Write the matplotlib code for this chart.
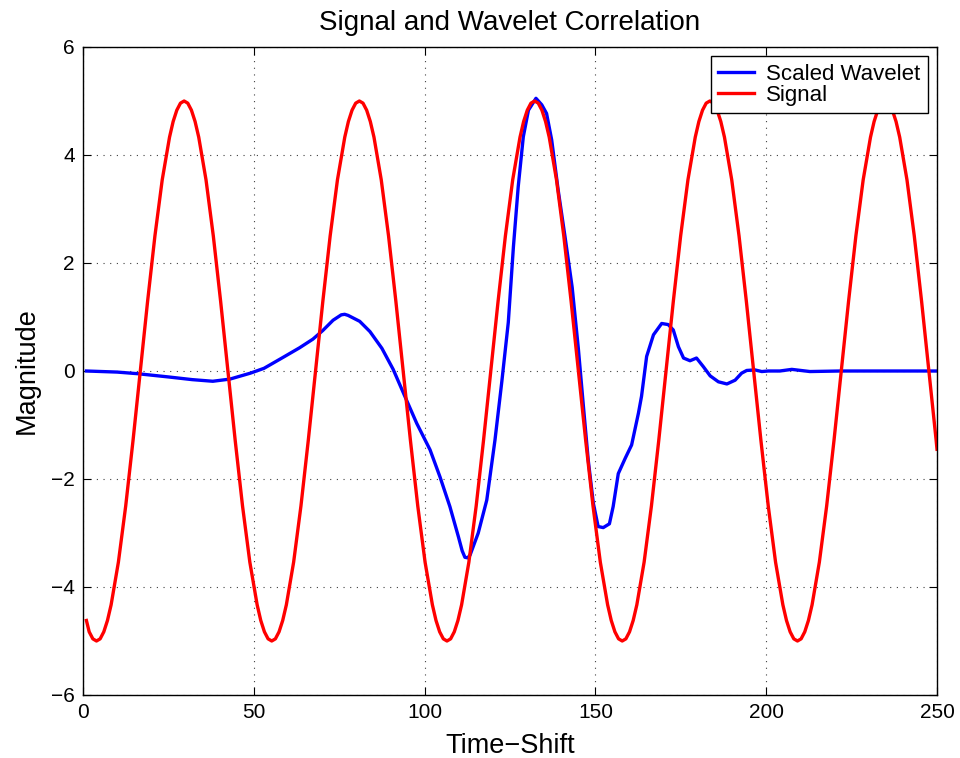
import matplotlib
matplotlib.use("Agg")
import matplotlib.pyplot as plt

plt.rcParams['font.family'] = ['Liberation Sans', 'DejaVu Sans']

# red signal (denser near the peaks and troughs)
signal_t = [1.00, 1.81, 2.88,
            3.95, 5.02, 6.09, 7.16, 8.23, 10.36, 12.50, 14.64, 16.78, 18.91, 21.05, 23.19, 25.33, 26.39,
            27.46, 28.53, 29.60, 30.67, 31.74, 32.81, 33.88, 36.01, 38.15, 40.29, 42.43, 44.56, 46.70,
            48.84, 50.98, 52.04, 53.11, 54.18,
            55.25, 56.32, 57.39, 58.46, 59.53, 61.66, 63.80, 65.94, 68.08, 70.21, 72.35, 74.49, 76.63, 77.69,
            78.76, 79.83, 80.90, 81.97, 83.04, 84.11, 85.18, 87.31, 89.45, 91.59, 93.73, 95.86, 98.00,
            100.14, 102.28, 103.34, 104.41, 105.48,
            106.55, 107.62, 108.69, 109.76, 110.83, 112.96, 115.10, 117.24, 119.38, 121.51, 123.65, 125.79,
            127.93, 128.99, 130.06, 131.13, 132.20, 133.27, 134.34, 135.41, 136.48, 138.61, 140.75, 142.89,
            145.03, 147.16, 149.30, 151.44, 153.58, 154.64, 155.71, 156.78,
            157.85, 158.92, 159.99, 161.06, 162.13, 164.26, 166.40, 168.54, 170.68, 172.81, 174.95, 177.09,
            179.23, 180.29, 181.36, 182.43, 183.50, 184.57, 185.64, 186.71, 187.78, 189.91, 192.05, 194.19,
            196.33, 198.46, 200.60, 202.74, 204.88, 205.94, 207.01, 208.08,
            209.15, 210.22, 211.29, 212.36, 213.43, 215.56, 217.70, 219.84, 221.98, 224.11, 226.25, 228.39,
            230.53, 231.59, 232.66, 233.73, 234.80, 235.87, 236.94, 238.01, 239.08, 241.21, 243.35, 245.49,
            247.63, 249.76, 250.00]
signal_v = [-4.62, -4.83, -4.96,
            -5.00, -4.96, -4.83, -4.62, -4.33, -3.54, -2.50, -1.29, 0.00, 1.29, 2.50, 3.54, 4.33, 4.62,
            4.83, 4.96, 5.00, 4.96, 4.83, 4.62, 4.33, 3.54, 2.50, 1.29, 0.00, -1.29, -2.50,
            -3.54, -4.33, -4.62, -4.83, -4.96,
            -5.00, -4.96, -4.83, -4.62, -4.33, -3.54, -2.50, -1.29, 0.00, 1.29, 2.50, 3.54, 4.33, 4.62,
            4.83, 4.96, 5.00, 4.96, 4.83, 4.62, 4.33, 3.54, 2.50, 1.29, 0.00, -1.29, -2.50,
            -3.54, -4.33, -4.62, -4.83, -4.96,
            -5.00, -4.96, -4.83, -4.62, -4.33, -3.54, -2.50, -1.29, 0.00, 1.29, 2.50, 3.54,
            4.33, 4.62, 4.83, 4.96, 5.00, 4.96, 4.83, 4.62, 4.33, 3.54, 2.50, 1.29,
            0.00, -1.29, -2.50, -3.54, -4.33, -4.62, -4.83, -4.96,
            -5.00, -4.96, -4.83, -4.62, -4.33, -3.54, -2.50, -1.29, 0.00, 1.29, 2.50, 3.54,
            4.33, 4.62, 4.83, 4.96, 5.00, 4.96, 4.83, 4.62, 4.33, 3.54, 2.50, 1.29,
            0.00, -1.29, -2.50, -3.54, -4.33, -4.62, -4.83, -4.96,
            -5.00, -4.96, -4.83, -4.62, -4.33, -3.54, -2.50, -1.29, 0.00, 1.29, 2.50, 3.54,
            4.33, 4.62, 4.83, 4.96, 5.00, 4.96, 4.83, 4.62, 4.33, 3.54, 2.50, 1.29,
            0.00, -1.29, -1.45]

# blue scaled wavelet
wavelet_t = [1, 10, 16, 25, 32, 38, 43, 49, 53, 58.5, 63.4, 67.3, 70.2, 73.2, 75.6, 76.6, 77.6,
             81, 84, 87.5, 90.8, 94.3, 97.7, 101.6, 104.5, 107.4, 109.9, 111.0, 111.8, 112.6, 113.3,
             115.7, 118.2, 120.6, 122.6, 124.5, 126, 127.4, 128.9, 130.4, 132.6, 134.3,
             135.7, 137.2, 139.1, 141.1, 143.2, 145, 146.5, 147.9, 149.4, 150.8, 152.3,
             154.1, 155.2, 156.7, 158.7, 160.6, 162.6, 163.5, 165, 167, 169.4, 171.3,
             172.8, 174.3, 175.8, 177.7, 179.6, 181.6, 183.6, 186, 188.5, 190.9, 192.8,
             194.3, 196.7, 198.7, 200.6, 204, 207.5, 212.8, 221.6, 250]
wavelet_v = [0.0, -0.02, -0.05, -0.11, -0.16, -0.19, -0.15, -0.04, 0.05, 0.25, 0.43, 0.59,
             0.75, 0.94, 1.04, 1.05, 1.03, 0.92, 0.73, 0.42, 0.03, -0.48, -0.97, -1.46, -1.96,
             -2.51, -3.07, -3.33, -3.45, -3.46, -3.41, -3.0, -2.39, -1.28, -0.2, 0.9, 2.3, 3.41, 4.34,
             4.83, 5.05, 4.93, 4.77, 4.28, 3.35, 2.49, 1.55, 0.42, -0.66, -1.65, -2.45,
             -2.88, -2.9, -2.83, -2.51, -1.9, -1.62, -1.37, -0.78, -0.47, 0.27, 0.67, 0.88,
             0.86, 0.76, 0.45, 0.24, 0.19, 0.24, 0.08, -0.09, -0.2, -0.24, -0.17, -0.04,
             0.01, 0.02, -0.01, 0.0, 0.0, 0.03, -0.01, 0.0, 0.0]

xticks = [0, 50, 100, 150, 200, 250]
yticks = [-6, -4, -2, 0, 2, 4, 6]

fig = plt.figure(figsize=(9.6, 7.58), dpi=100)
ax = fig.add_axes([83 / 960, 63 / 758, 854 / 960, 648 / 758])

ax.plot(wavelet_t, wavelet_v, color='#0000ff', lw=2.4, label='Scaled Wavelet',
        solid_joinstyle='round')
ax.plot(signal_t, signal_v, color='#ff0000', lw=2.4, label='Signal',
        solid_joinstyle='round')

ax.set_xlim(0, 250)
ax.set_ylim(-6, 6)
ax.set_xticks(xticks)
ax.set_yticks(yticks)
ax.tick_params(direction='in', length=6, width=0.8, top=True, right=True,
               labelsize=15, pad=6, colors='black')
ax.grid(True, color='0.25', linestyle=(0, (1, 5)), linewidth=0.8)
for s in ax.spines.values():
    s.set_linewidth(1.0)
    s.set_color('black')

ax.set_title('Signal and Wavelet Correlation', fontsize=20, pad=12)
ax.set_xlabel('Time\u2212Shift', fontsize=19.5, labelpad=8)
ax.set_ylabel('Magnitude', fontsize=19.5, labelpad=8)

leg = ax.legend(loc='upper right', fontsize=16, fancybox=False, framealpha=1,
                edgecolor='black', borderaxespad=0.4, handlelength=1.6,
                labelspacing=0.0, borderpad=0.35, handletextpad=0.55)
leg.get_frame().set_linewidth(1.0)

fig.savefig('out.png', dpi=100)
